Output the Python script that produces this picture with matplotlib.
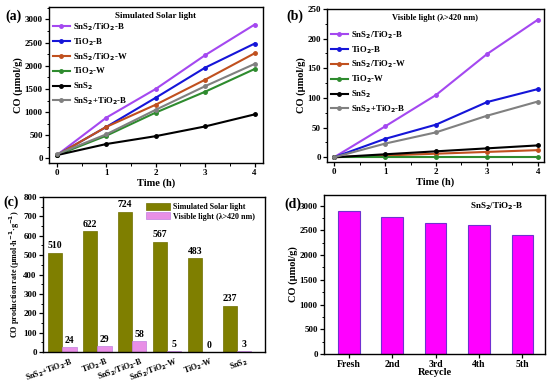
import matplotlib
matplotlib.use("Agg")
import matplotlib.pyplot as plt
import numpy as np
from matplotlib.ticker import MultipleLocator

plt.rcParams['font.family'] = ['Liberation Serif', 'DejaVu Serif']
plt.rcParams['font.weight'] = 'bold'
plt.rcParams['axes.labelweight'] = 'bold'
plt.rcParams['mathtext.default'] = 'bf'
plt.rcParams['axes.linewidth'] = 1.0

# ---------------- data ----------------
time_h = [0, 1, 2, 3, 4]
series_names = ['SnS$_2$/TiO$_2$-B', 'TiO$_2$-B', 'SnS$_2$/TiO$_2$-W',
                'TiO$_2$-W', 'SnS$_2$', 'SnS$_2$+TiO$_2$-B']
series_colors = ['#A448F0', '#1515D8', '#C0501E', '#2E8B2E', '#000000', '#808080']

solar_snstio2_b = [70, 880, 1500, 2230, 2890]
solar_tio2_b = [70, 680, 1310, 1960, 2480]
solar_snstio2_w = [70, 680, 1160, 1700, 2270]
solar_tio2_w = [70, 490, 990, 1440, 1930]
solar_sns2 = [70, 310, 480, 690, 950]
solar_mix = [90, 520, 1050, 1560, 2040]

vis_snstio2_b = [0, 52, 105, 174, 232]
vis_tio2_b = [0, 31, 55, 93, 115]
vis_snstio2_w = [0, 3, 6, 9, 12]
vis_tio2_w = [0, 0, 0, 0, 0]
vis_sns2 = [0, 5, 10, 15, 20]
vis_mix = [0, 23, 42, 70, 94]

rate_categories = ['SnS$_2$+TiO$_2$-B', 'TiO$_2$-B', 'SnS$_2$/TiO$_2$-B',
                   'SnS$_2$/TiO$_2$-W', 'TiO$_2$-W', 'SnS$_2$']
rate_solar = [510, 622, 724, 567, 483, 237]
rate_visible = [24, 29, 58, 5, 0, 3]

recycle_labels = ['Fresh', '2nd', '3rd', '4th', '5th']
recycle_values = [2900, 2780, 2650, 2610, 2410]

solar_series = [solar_snstio2_b, solar_tio2_b, solar_snstio2_w, solar_tio2_w, solar_sns2, solar_mix]
vis_series = [vis_snstio2_b, vis_tio2_b, vis_snstio2_w, vis_tio2_w, vis_sns2, vis_mix]

# ---------------- figure ----------------
W, H = 550, 383
fig = plt.figure(figsize=(W / 100, H / 100), dpi=100)

def add_ax(l, t, r, b):
    return fig.add_axes([l / W, 1 - b / H, (r - l) / W, (b - t) / H])

fs = 6.5

def style(ax):
    ax.tick_params(direction='out', labelsize=fs, width=0.9, length=3, pad=1.5)
    ax.tick_params(which='minor', direction='out', width=0.7, length=1.8)
    for lab in ax.get_xticklabels() + ax.get_yticklabels():
        lab.set_fontweight('bold')

leg_kw = dict(frameon=False, fontsize=6.3, handlelength=2.0, handletextpad=0.3,
              labelspacing=0.38, borderaxespad=0.2, borderpad=0.2)

# (a)
axa = add_ax(49, 7, 263, 163)
for vals, name, c in zip(solar_series, series_names, series_colors):
    axa.plot(time_h, vals, color=c, lw=1.5, marker='o', ms=2.5, label=name)
axa.set_xlim(-0.16, 4.17)
axa.set_ylim(-100, 3270)
axa.xaxis.set_major_locator(MultipleLocator(1))
axa.xaxis.set_minor_locator(MultipleLocator(0.5))
axa.yaxis.set_major_locator(MultipleLocator(500))
axa.yaxis.set_minor_locator(MultipleLocator(250))
axa.set_xlabel('Time (h)', fontsize=7.5, labelpad=1)
axa.set_ylabel('CO (μmol/g)', fontsize=7.5, labelpad=1)
axa.text(0.5, 0.94, 'Simulated Solar light', transform=axa.transAxes,
         fontsize=6.5, fontweight='bold', ha='center', va='center')
axa.legend(loc='upper left', bbox_to_anchor=(0.0, 0.93), **leg_kw)
style(axa)

# (b)
axb = add_ax(327, 9, 544, 162)
for vals, name, c in zip(vis_series, series_names, series_colors):
    axb.plot(time_h, vals, color=c, lw=1.5, marker='o', ms=2.5, label=name)
axb.set_xlim(-0.14, 4.12)
axb.set_ylim(-8, 250)
axb.xaxis.set_major_locator(MultipleLocator(1))
axb.xaxis.set_minor_locator(MultipleLocator(0.5))
axb.yaxis.set_major_locator(MultipleLocator(50))
axb.yaxis.set_minor_locator(MultipleLocator(25))
axb.set_xlabel('Time (h)', fontsize=7.5, labelpad=1)
axb.set_ylabel('CO (μmol/g)', fontsize=7.5, labelpad=1)
axb.text(0.5, 0.94, 'Visible light (λ>420 nm)', transform=axb.transAxes,
         fontsize=6, fontweight='bold', ha='center', va='center')
axb.legend(loc='upper left', bbox_to_anchor=(0.0, 0.89), **leg_kw)
style(axb)

# (c)
axc = add_ax(43, 197, 265, 352)
x = np.arange(len(rate_categories))
bw = 0.41
axc.bar(x - bw / 2, rate_solar, bw, color='#7F7F00', edgecolor='#6E6E00', lw=0.5,
        label='Simulated Solar light')
axc.bar(x + bw / 2, rate_visible, bw, color='#E88FE6', edgecolor='#C080E0', lw=0.5,
        label='Visible light (λ>420 nm)')
for xi, v in zip(x, rate_solar):
    axc.text(xi - bw / 2, v + 15, str(v), ha='center', va='bottom', fontsize=7, fontweight='bold')
for xi, v in zip(x, rate_visible):
    axc.text(xi + bw / 2, v + 10, str(v), ha='center', va='bottom', fontsize=7, fontweight='bold')
axc.set_xlim(-0.55, 5.8)
axc.set_ylim(0, 800)
axc.yaxis.set_major_locator(MultipleLocator(100))
axc.yaxis.set_minor_locator(MultipleLocator(50))
axc.set_xticks(x + 0.25)
axc.set_xticklabels(rate_categories, rotation=20, ha='right', rotation_mode='anchor')
axc.set_ylabel('CO production rate (μmol·h$^{-1}$·g$^{-1}$)', fontsize=5.9, labelpad=1)
axc.legend(loc='upper right', bbox_to_anchor=(0.98, 1.0), frameon=False, fontsize=5.8,
           handlelength=3.0, handleheight=1.0, handletextpad=0.4, labelspacing=0.15,
           borderaxespad=0.3)
style(axc)
axc.tick_params(axis='x', labelsize=5.8, length=0, pad=3)

# (d)
axd = add_ax(324, 195, 545, 354)
xd = np.arange(len(recycle_labels))
axd.bar(xd, recycle_values, 0.5, color='#FF00FF', edgecolor='#7030D0', lw=0.8)
axd.set_xlim(-0.57, 4.52)
axd.set_ylim(0, 3215)
axd.yaxis.set_major_locator(MultipleLocator(500))
axd.yaxis.set_minor_locator(MultipleLocator(250))
axd.set_xticks(xd)
axd.set_xticklabels(recycle_labels)
axd.set_xlabel('Recycle', fontsize=7.5, labelpad=-1)
axd.set_ylabel('CO (μmol/g)', fontsize=7.5, labelpad=1)
axd.text(0.78, 0.93, 'SnS$_2$/TiO$_2$-B', transform=axd.transAxes,
         fontsize=6.5, fontweight='bold', ha='center', va='center')
style(axd)
axd.tick_params(axis='x', labelsize=7)

# panel labels
for lab, px, py in [('(a)', 5, 16), ('(b)', 286, 16), ('(c)', 3, 202), ('(d)', 284, 204)]:
    fig.text(px / W, 1 - py / H, lab, fontsize=10, fontweight='bold', ha='left', va='center')

fig.savefig('out.png', dpi=100)
